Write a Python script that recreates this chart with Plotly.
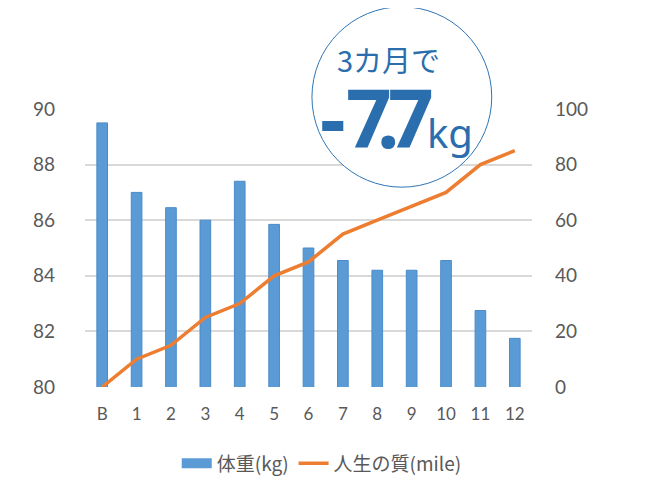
import plotly.graph_objects as go

categories = ["B", "1", "2", "3", "4", "5", "6", "7", "8", "9", "10", "11", "12"]
weight = [89.5, 87.0, 86.45, 86.0, 87.4, 85.85, 85.0, 84.55, 84.2, 84.2, 84.55, 82.75, 81.75]
quality = [0, 10, 15, 25, 30, 40, 45, 55, 60, 65, 70, 80, 85]
left_ticks = [80, 82, 84, 86, 88, 90]
right_ticks = [0, 20, 40, 60, 80, 100]

font_lat = "Lato, 'Noto Sans CJK JP', sans-serif"
font_jp = "'Noto Sans CJK JP', sans-serif"
font_big = "'Noto Sans', sans-serif"
gray = "#595959"
blue_txt = "#2a6ead"
bar_color = "#5b9bd5"
line_color = "#ed7d31"

fig = go.Figure()
fig.add_trace(go.Bar(
    x=categories, y=weight, name="体重(kg)",
    marker=dict(color=bar_color, line=dict(color="#4a8ac8", width=1)),
    yaxis="y", showlegend=False,
))
# legend stand-in for the bar series (wide rectangle swatch)
fig.add_trace(go.Scatter(
    x=[None], y=[None], name="体重(kg)", mode="lines",
    line=dict(color=bar_color, width=10), yaxis="y",
))
fig.add_trace(go.Scatter(
    x=categories, y=quality, name="人生の質(mile)", mode="lines",
    line=dict(color=line_color, width=3.5),
    yaxis="y2",
))

# plot area in page pixels (page has an 8px body margin)
PL, PR, PT, PB = 84.5, 532.0, 109.3, 386.7
OFF = 8

def px_x(p):
    return (p - PL) / (PR - PL)

def px_y(p):
    return (PB - p) / (PB - PT)

def ann(text, x, y, size, family=font_big, bold=False):
    return dict(text=("<b>%s</b>" % text) if bold else text, xref="paper", yref="paper",
                x=px_x(x), y=px_y(y), xanchor="center", yanchor="middle", showarrow=False,
                font=dict(family=family, size=size, color=blue_txt))

W, H = 646, 488
fig.update_layout(
    width=W, height=H,
    margin=dict(l=PL - OFF, r=W - (PR - OFF), t=PT - OFF, b=H - (PB - OFF), autoexpand=False),
    paper_bgcolor="white", plot_bgcolor="white",
    bargap=0.69,
    showlegend=True,
    legend=dict(orientation="h", x=px_x(321.5), xanchor="center", y=px_y(463), yanchor="middle",
                font=dict(family=font_jp, size=19, color=gray),
                traceorder="normal"),
    xaxis=dict(type="category", showgrid=False, showline=False, ticks="", automargin=False,
               tickfont=dict(family=font_lat, size=17, color=gray),
               ticklabelstandoff=15),
    yaxis=dict(range=[80, 90], tickvals=left_ticks, showgrid=True, gridcolor="#d9d9d9",
               gridwidth=1.5, zeroline=False, showline=False, automargin=False,
               tickfont=dict(family=font_lat, size=19, color=gray),
               ticklabelstandoff=29),
    yaxis2=dict(range=[0, 100], tickvals=right_ticks, overlaying="y", side="right",
                showgrid=False, zeroline=False, showline=False, automargin=False,
                tickfont=dict(family=font_lat, size=19, color=gray),
                ticklabelstandoff=22),
    shapes=[dict(type="circle", xref="paper", yref="paper",
                 x0=px_x(311.7), x1=px_x(491.7), y0=px_y(187.3), y1=px_y(7.3),
                 fillcolor="white", line=dict(color="#2e75b6", width=1), layer="above")],
    annotations=[
        ann("3カ月で", 388, 59, 29, family=font_jp),
        ann("-", 332.5, 117, 80, bold=True),
        ann("7", 369, 117, 80, bold=True),
        ann(".", 387.5, 117, 80, bold=True),
        ann("7", 411, 117, 80, bold=True),
        ann("kg", 450, 132.7, 40),
    ],
)

fig.write_html("out.html")
